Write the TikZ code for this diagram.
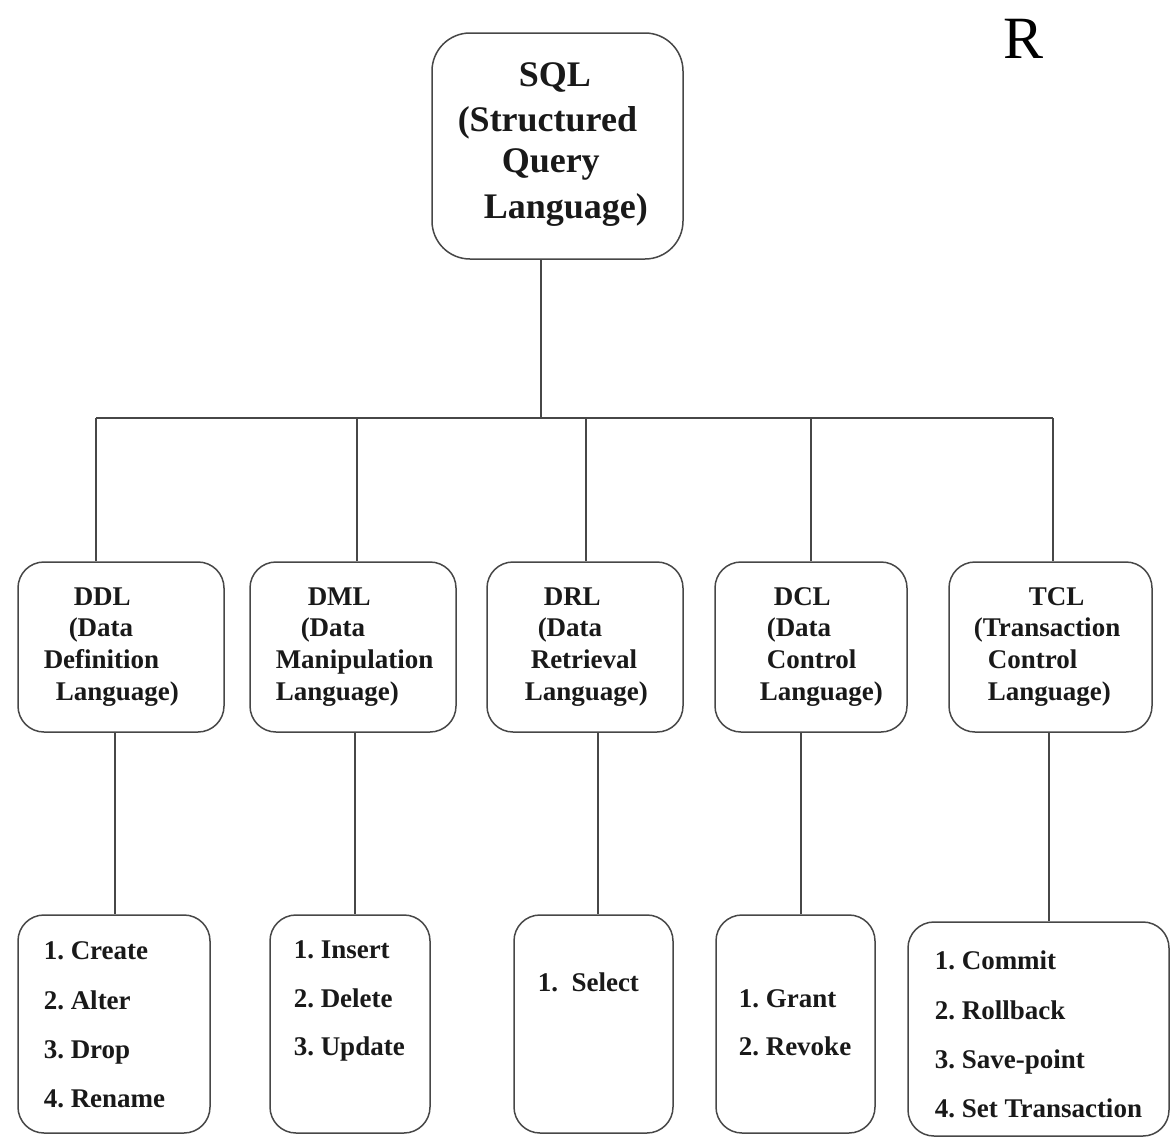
\documentclass[tikz,border=0pt]{standalone}
\usepackage{fontspec}
\setmainfont{Liberation Serif}
\frenchspacing
\begin{document}
\begin{tikzpicture}[x=1pt,y=-1pt,
  line width=1.5pt,
  frame/.style={draw=black!72, rounded corners=26pt, inner sep=0pt},
  big/.style={draw=black!72, rounded corners=38pt, inner sep=0pt},
  link/.style={draw=black!72, line width=1.5pt},
  txt/.style={anchor=base west, inner sep=0pt, text=black!90,
              font=\fontsize{27}{32}\selectfont\bfseries},
  head/.style={anchor=base west, inner sep=0pt, text=black!90,
              font=\fontsize{36}{44}\selectfont\bfseries}]
\useasboundingbox (0,0) rectangle (1172,1138);

% root box
\node[big, minimum width=251pt, minimum height=226pt] (sql) at (557.5,146) {};
\node[head] (s1) at (518,86) {SQL};
\node[head] (s2) at (457,131) {(Structured};
\node[head] (s3) at (501,172) {Query};
\node[head] (s4) at (483,218) {Language)};

% corner letter
\node[anchor=base west, inner sep=0pt, font=\fontsize{60}{60}\selectfont] (r) at (1003,58) {R};

% second level boxes
\node[frame, minimum width=206pt, minimum height=170pt] (ddl) at (121,647) {};
\node[frame, minimum width=206pt, minimum height=170pt] (dml) at (353,647) {};
\node[frame, minimum width=196pt, minimum height=170pt] (drl) at (585,647) {};
\node[frame, minimum width=192pt, minimum height=170pt] (dcl) at (811,647) {};
\node[frame, minimum width=203pt, minimum height=170pt] (tcl) at (1050.5,647) {};

\node[txt] (a1) at (73,605) {DDL};
\node[txt] (a2) at (68,636) {(Data};
\node[txt] (a3) at (43,668) {Definition};
\node[txt] (a4) at (55,700) {Language)};

\node[txt] (b1) at (307,605) {DML};
\node[txt] (b2) at (300,636) {(Data};
\node[txt] (b3) at (275,668) {Manipulation};
\node[txt] (b4) at (275,700) {Language)};

\node[txt] (c1) at (543,605) {DRL};
\node[txt] (c2) at (537,636) {(Data};
\node[txt] (c3) at (530,668) {Retrieval};
\node[txt] (c4) at (524,700) {Language)};

\node[txt] (d1) at (773,605) {DCL};
\node[txt] (d2) at (766,636) {(Data};
\node[txt] (d3) at (766,668) {Control};
\node[txt] (d4) at (759,700) {Language)};

\node[txt] (e1) at (1028,605) {TCL};
\node[txt] (e2) at (973,636) {(Transaction};
\node[txt] (e3) at (987,668) {Control};
\node[txt] (e4) at (987,700) {Language)};

% leaf boxes
\node[frame, minimum width=192pt, minimum height=218pt] (ddlx) at (114,1024) {};
\node[frame, minimum width=160pt, minimum height=218pt] (dmlx) at (350,1024) {};
\node[frame, minimum width=159pt, minimum height=218pt] (drlx) at (593.5,1024) {};
\node[frame, minimum width=159pt, minimum height=218pt] (dclx) at (795.5,1024) {};
\node[frame, minimum width=261pt, minimum height=214pt] (tclx) at (1038.5,1029) {};

\node[txt] (f1) at (43,959) {1. Create};
\node[txt] (f2) at (43,1009) {2. Alter};
\node[txt] (f3) at (43,1058) {3. Drop};
\node[txt] (f4) at (43,1107) {4. Rename};

\node[txt] (g1) at (293,958) {1. Insert};
\node[txt] (g2) at (293,1007) {2. Delete};
\node[txt] (g3) at (293,1055) {3. Update};

\node[txt] (h1) at (537,991) {1.\enspace Select};

\node[txt] (i1) at (738,1007) {1. Grant};
\node[txt] (i2) at (738,1055) {2. Revoke};

\node[txt] (j1) at (934,969) {1. Commit};
\node[txt] (j2) at (934,1019) {2. Rollback};
\node[txt] (j3) at (934,1068) {3. Save-point};
\node[txt] (j4) at (934,1117) {4. Set Transaction};

% bus from the root to the second level
\coordinate (hub) at (541,418);
\coordinate (p1) at (96,418);
\coordinate (p2) at (357,418);
\coordinate (p3) at (586,418);
\coordinate (p4) at (811,418);
\coordinate (p5) at (1053,418);
\draw[link] (hub |- sql.south) -- (hub);
\draw[link] (p1) -- (p5);
\draw[link] (p1) -- (p1 |- ddl.north);
\draw[link] (p2) -- (p2 |- dml.north);
\draw[link] (p3) -- (p3 |- drl.north);
\draw[link] (p4) -- (p4 |- dcl.north);
\draw[link] (p5) -- (p5 |- tcl.north);

% drops to the leaf boxes
\coordinate (q1) at (115,800);
\coordinate (q2) at (355,800);
\coordinate (q3) at (598,800);
\coordinate (q4) at (801,800);
\coordinate (q5) at (1049,800);
\draw[link] (q1 |- ddl.south) -- (q1 |- ddlx.north);
\draw[link] (q2 |- dml.south) -- (q2 |- dmlx.north);
\draw[link] (q3 |- drl.south) -- (q3 |- drlx.north);
\draw[link] (q4 |- dcl.south) -- (q4 |- dclx.north);
\draw[link] (q5 |- tcl.south) -- (q5 |- tclx.north);
\end{tikzpicture}
\end{document}
